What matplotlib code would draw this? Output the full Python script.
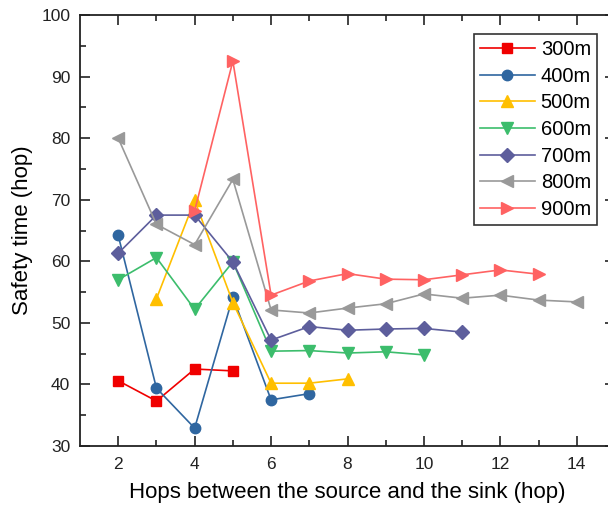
import matplotlib.pyplot as plt

plt.rcParams['font.family'] = ['Liberation Sans', 'DejaVu Sans']

labels = ['300m', '400m', '500m', '600m', '700m', '800m', '900m']

x_300 = [2, 3, 4, 5]
y_300 = [40.6, 37.3, 42.5, 42.2]
x_400 = [2, 3, 4, 5, 6, 7]
y_400 = [64.2, 39.4, 32.9, 54.2, 37.5, 38.5]
x_500 = [3, 4, 5, 6, 7, 8]
y_500 = [53.9, 69.9, 53.3, 40.2, 40.2, 40.9]
x_600 = [2, 3, 4, 5, 6, 7, 8, 9, 10]
y_600 = [57.0, 60.6, 52.2, 59.9, 45.4, 45.5, 45.1, 45.3, 44.8]
x_700 = [2, 3, 4, 5, 6, 7, 8, 9, 10, 11]
y_700 = [61.3, 67.5, 67.5, 59.9, 47.2, 49.4, 48.8, 49.0, 49.1, 48.5]
x_800 = [2, 3, 4, 5, 6, 7, 8, 9, 10, 11, 12, 13, 14]
y_800 = [80.0, 66.0, 62.7, 73.3, 52.1, 51.6, 52.4, 53.1, 54.7, 54.0, 54.5, 53.7, 53.4]
x_900 = [4, 5, 6, 7, 8, 9, 10, 11, 12, 13]
y_900 = [68.2, 92.5, 54.5, 56.8, 58.0, 57.1, 57.0, 57.8, 58.6, 57.9]

xs = [x_300, x_400, x_500, x_600, x_700, x_800, x_900]
ys = [y_300, y_400, y_500, y_600, y_700, y_800, y_900]
colors = ['#f00000', '#2f66a0', '#ffbf00', '#3cbd6c', '#5d5e9c', '#999999', '#ff6262']
markers = ['s', 'o', '^', 'v', 'D', '<', '>']
sizes = [7, 7.5, 8.5, 8.5, 7, 8.5, 8.5]

fig = plt.figure(figsize=(6.08, 5.08), dpi=100)
ax = fig.add_axes([80 / 608, 62 / 508, 535 / 608, 431 / 508])

for x, y, c, m, s, lab in zip(xs, ys, colors, markers, sizes, labels):
    ax.plot(x, y, color=c, marker=m, markersize=s, linewidth=1.2, label=lab)

ax.set_xlim(1, 15)
ax.set_ylim(30, 100)
ax.set_xticks([2, 4, 6, 8, 10, 12, 14])
ax.set_xticks([3, 5, 7, 9, 11, 13], minor=True)
ax.set_yticks([30, 40, 50, 60, 70, 80, 90, 100])
ax.set_yticks([35, 45, 55, 65, 75, 85, 95], minor=True)
ax.tick_params(which='both', direction='in', top=True, right=True, labelsize=12.5, width=1.2,
               colors='#222222')
ax.tick_params(which='major', length=7)
ax.tick_params(which='minor', length=4)
ax.tick_params(axis='x', which='major', pad=8)
ax.tick_params(axis='y', which='major', pad=7)
for sp in ax.spines.values():
    sp.set_linewidth(1.3)
    sp.set_color('#222222')

ax.set_xlabel('Hops between the source and the sink (hop)', fontsize=16, labelpad=7)
ax.set_ylabel('Safety time (hop)', fontsize=16, labelpad=6)

leg = ax.legend(loc='upper right', fontsize=14.5, fancybox=False, edgecolor='black',
                handlelength=2.7, borderaxespad=0, labelspacing=0.38, handletextpad=0.3,
                borderpad=0.3)
leg.set_bbox_to_anchor((0, 0, (597 - 80) / 535, (446 - 34) / 431), transform=ax.transAxes)
leg.get_frame().set_linewidth(1.2)

fig.savefig('out.png', dpi=100)
